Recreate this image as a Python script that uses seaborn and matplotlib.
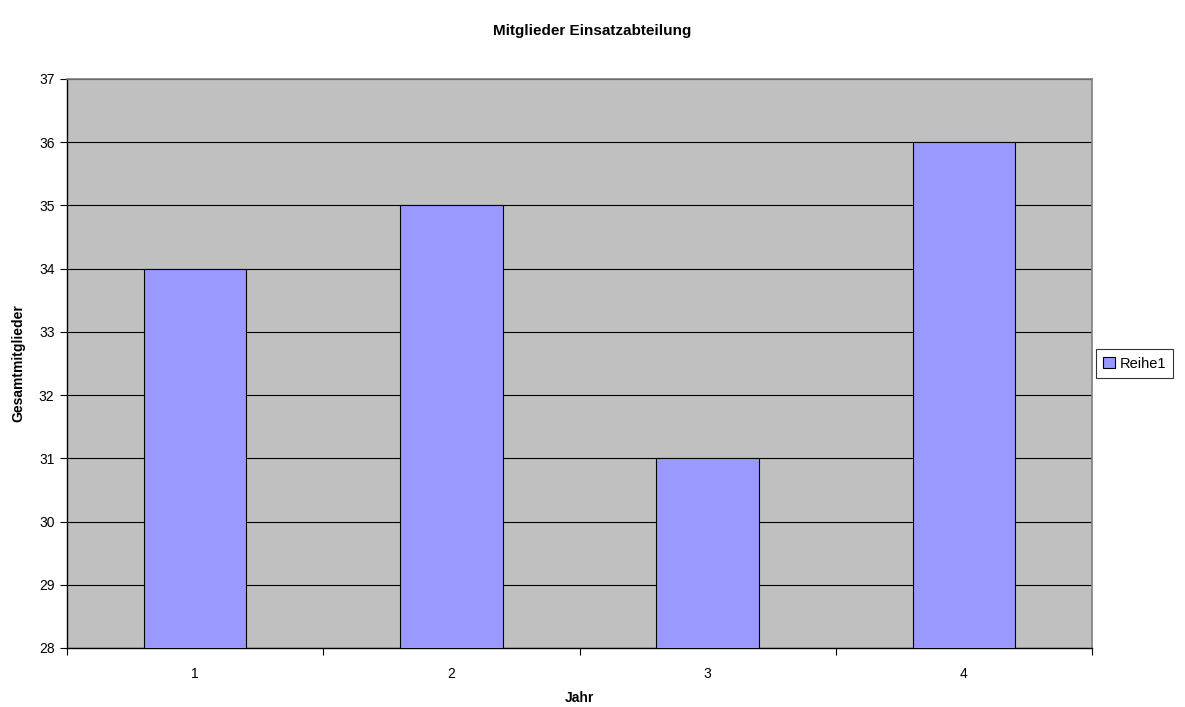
import matplotlib
matplotlib.use("Agg")
import matplotlib.pyplot as plt
import seaborn as sns
import pandas as pd
import numpy as np

#data
jahre = ["1", "2", "3", "4"]
mitglieder = [34, 35, 31, 36]
reihe = "Reihe1"

df = pd.DataFrame({"Jahr": jahre, "Mitglieder": mitglieder})

sns.set_style("white")
plt.rcParams["font.family"] = ["Liberation Sans", "DejaVu Sans"]
plt.rcParams["text.color"] = "black"
plt.rcParams["axes.labelcolor"] = "black"
plt.rcParams["xtick.color"] = "black"
plt.rcParams["ytick.color"] = "black"

fig = plt.figure(figsize=(11.85, 7.07), dpi=100)
ax = fig.add_axes([67/1185, 1-648/707, (1092-67)/1185, (648-79)/707])
ax.set_facecolor("#C0C0C0")

sns.barplot(data=df, x="Jahr", y="Mitglieder", color="#9999FF", width=0.4,
            edgecolor="black", linewidth=0.8, saturation=1, ax=ax, label=reihe, zorder=3)

ax.set_ylim(28, 37)
ax.set_xlim(-0.5, 3.5)
ax.set_yticks(range(28, 38))
ax.grid(axis="y", color="black", linewidth=0.8, zorder=1)
ax.set_axisbelow(True)

#category boundaries get the tick marks, labels stay centred
ax.set_xticks(np.arange(-0.5, 4, 1), minor=True)
ax.tick_params(axis="x", which="major", length=0, pad=14, labelsize=10)
ax.tick_params(axis="x", which="minor", length=5, width=0.8, color="black",
               direction="out", bottom=True)
ax.tick_params(axis="y", length=5, width=0.8, color="black", direction="out",
               labelsize=10, left=True, pad=4)

for s in ["top", "right"]:
    ax.spines[s].set_color("#808080")
    ax.spines[s].set_linewidth(1.2)
for s in ["left", "bottom"]:
    ax.spines[s].set_color("black")
    ax.spines[s].set_linewidth(1)

ax.set_xlabel("Jahr", fontsize=10, fontweight="bold")
ax.xaxis.set_label_coords(0.5, -0.088)
ax.xaxis.label.set_va("center")
ax.set_ylabel("Gesamtmitglieder", fontsize=10, fontweight="bold", labelpad=10)
fig.text(0.5, 1-31/707, "Mitglieder Einsatzabteilung", ha="center", va="center",
         fontsize=11, fontweight="bold")

leg = ax.legend(loc="center left", bbox_to_anchor=(1.004, 0.5), frameon=True, fancybox=False,
                edgecolor="black", fontsize=10.5, handlelength=0.8, handleheight=0.8,
                handletextpad=0.3, borderpad=0.5, borderaxespad=0)
leg.get_frame().set_linewidth(0.8)

plt.savefig("out.png", dpi=100)
